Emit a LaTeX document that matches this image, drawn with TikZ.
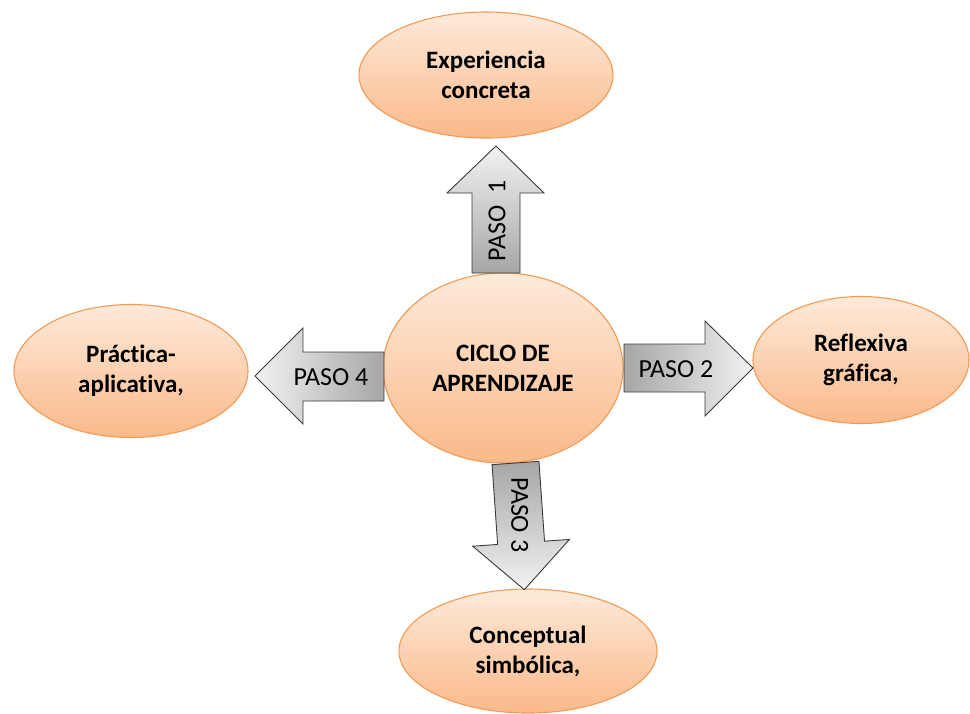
\documentclass[tikz,border=0pt]{standalone}
\usepackage{fontspec}
\setmainfont{Carlito}[Ligatures=NoCommon]
\usetikzlibrary{shapes.geometric}
\definecolor{peachtop}{HTML}{FDEADA}
\definecolor{peachbot}{HTML}{FAB98A}
\definecolor{peachline}{HTML}{F39A55}
\definecolor{arrdark}{HTML}{A6A6A6}
\definecolor{arrlight}{HTML}{F2F2F2}
\definecolor{arrline}{HTML}{3A3A3A}
\tikzset{
  blob/.style={ellipse, draw=peachline, line width=1.1pt, top color=peachtop, bottom color=peachbot,
    inner sep=0pt, align=center, font=\fontsize{25}{30}\selectfont\bfseries, text=black},
  blockarrow/.style={draw=arrline, line width=0.9pt, line join=miter},
  steplabel/.style={font=\fontsize{26}{30}\selectfont, text=black, inner sep=0pt},
}
\begin{document}
\begin{tikzpicture}[x=1pt,y=-1pt]
\useasboundingbox (0,0) rectangle (970,713);

% ellipses
\node[blob, minimum width=254, minimum height=126] (exp) at (486,75) {Experiencia\\concreta};
\node[blob, minimum width=240, minimum height=190] (ciclo) at (503,368) {CICLO DE\\APRENDIZAJE};
\node[blob, minimum width=234, minimum height=133] (prac) at (131,371) {Práctica-\\aplicativa,};
\node[blob, minimum width=216, minimum height=127] (refl) at (861,360) {Reflexiva\\gráfica,};
\node[blob, minimum width=258, minimum height=124] (conc) at (528,651) {Conceptual\\simbólica,};

% PASO 1 (up)
\shade[blockarrow, top color=arrlight, bottom color=arrdark]
  (472,273) -- (472,193) -- (447,193) -- (496,146) -- (544,193) -- (520,193) -- (520,273) -- cycle;
\node[steplabel, rotate=90] (p1) at (497,221) {PASO\ \ 1};

% PASO 2 (right)
\shade[blockarrow, left color=arrdark, right color=arrlight]
  (624,344) -- (705,344) -- (705,321) -- (753,368) -- (705,416) -- (705,392) -- (624,392) -- cycle;
\node[steplabel] (p2) at (676,369) {PASO 2};

% PASO 4 (left)
\shade[blockarrow, left color=arrlight, right color=arrdark]
  (384,352) -- (303,352) -- (303,328) -- (255,376) -- (303,424) -- (303,401) -- (384,401) -- cycle;
\node[steplabel] (p4) at (331,377) {PASO 4};

% PASO 3 (down, slightly tilted)
\begin{scope}[rotate around={4:(515.5,463)}]
\shade[blockarrow, top color=arrdark, bottom color=arrlight]
  (492,463) -- (539,463) -- (539,543) -- (564,543) -- (515.5,590) -- (467,543) -- (492,543) -- cycle;
\node[steplabel, rotate=-90] (p3) at (516,515) {PASO 3};
\end{scope}
\end{tikzpicture}
\end{document}
